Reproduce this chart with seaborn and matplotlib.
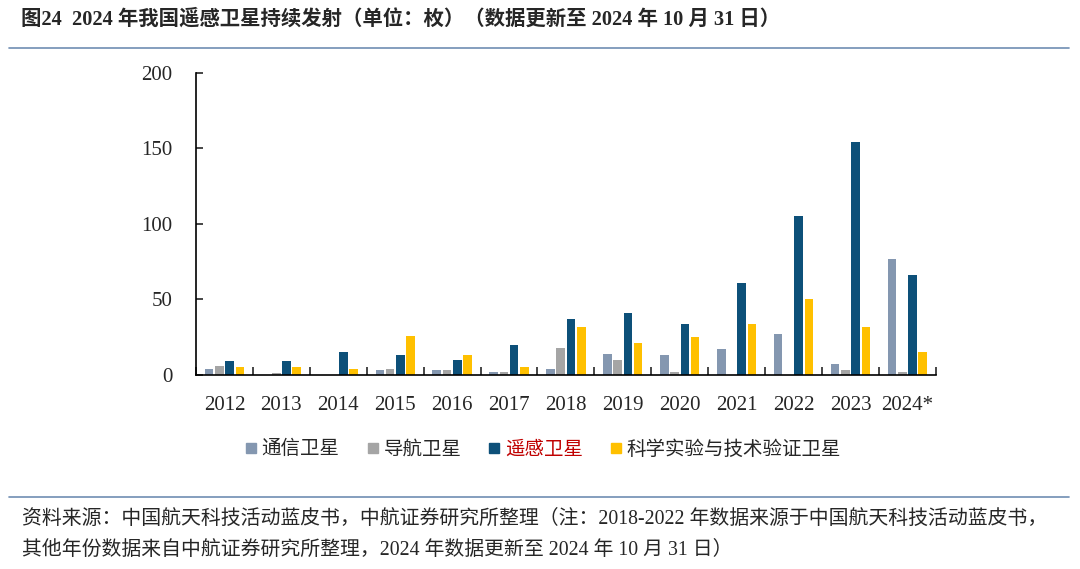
import numpy as np
import pandas as pd
import matplotlib
matplotlib.use("Agg")
import matplotlib.pyplot as plt
from matplotlib.lines import Line2D
import seaborn as sns

sns.set_style("white")
plt.rcParams["font.family"] = ["Liberation Serif", "Noto Sans CJK SC", "DejaVu Sans"]

# ================================
# DATA (单位：枚)
# ================================

years = ["2012", "2013", "2014", "2015", "2016", "2017", "2018",
         "2019", "2020", "2021", "2022", "2023", "2024*"]
series = ["通信卫星", "导航卫星", "遥感卫星", "科学实验与技术验证卫星"]

comm = [4, 0, 0, 3, 3, 2, 4, 14, 13, 17, 27, 7, 77]
nav = [6, 1, 0, 4, 3, 2, 18, 10, 2, 0, 0, 3, 2]
remote = [9, 9, 15, 13, 10, 20, 37, 41, 34, 61, 105, 154, 66]
science = [5, 5, 4, 26, 13, 5, 32, 21, 25, 34, 50, 32, 15]

colors = ["#8497b0", "#a5a5a5", "#0d5079", "#ffc000"]

df = pd.DataFrame({"year": years * 4,
                   "type": np.repeat(series, len(years)),
                   "count": comm + nav + remote + science})

# ================================
# PLOT
# ================================

fig = plt.figure(figsize=(10.8, 5.69), dpi=100)
ax = fig.add_axes([0.1815, 0.341, 0.685, 0.531])

sns.barplot(data=df, x="year", y="count", hue="type", hue_order=series,
            palette=colors, width=0.72, gap=0.16, saturation=1,
            linewidth=0, legend=False, ax=ax)

ax.set_xlim(-0.5, len(years) - 0.5)
ax.set_ylim(0, 200)
ax.set_yticks([0, 50, 100, 150, 200])
ax.set_xlabel("")
ax.set_ylabel("")

for s in ["top", "right"]:
    ax.spines[s].set_visible(False)
for s in ["left", "bottom"]:
    ax.spines[s].set_color("black")
    ax.spines[s].set_linewidth(1.2)

ax.tick_params(axis="y", direction="in", length=5, width=1.2,
               labelsize=15, pad=17, left=True)
ax.tick_params(axis="x", which="major", length=0, labelsize=15, pad=15)
ax.set_xticks(np.arange(len(years) + 1) - 0.5, minor=True)
ax.tick_params(axis="x", which="minor", direction="in", length=6,
               width=1.2, bottom=True)

# legend
handles = [Line2D([0], [0], marker="s", color="w", markerfacecolor=c,
                  markeredgecolor=c, markersize=6.5) for c in colors]
leg = fig.legend(handles, series, loc="center", ncol=4,
                 bbox_to_anchor=(0.503, 0.211), frameon=False,
                 handletextpad=0.25, columnspacing=1.4, handlelength=0.6,
                 prop={"family": ["Noto Sans CJK SC"], "size": 14})
for t in leg.get_texts():
    if t.get_text() == "遥感卫星":
        t.set_color("#c00000")

# title & separators
fig.text(0.019, 0.966, "图24  2024 年我国遥感卫星持续发射（单位：枚）（数据更新至 2024 年 10 月 31 日）",
         fontsize=14.7, fontweight="bold", va="center", ha="left",
         family=["Liberation Serif", "Noto Sans CJK SC"])
fig.add_artist(Line2D([0.008, 0.99], [0.915, 0.915], color="#6f8db3",
                      linewidth=1.2, transform=fig.transFigure))
fig.add_artist(Line2D([0.008, 0.99], [0.126, 0.126], color="#6f8db3",
                      linewidth=1.2, transform=fig.transFigure))

fig.text(0.02, 0.088,
         "资料来源：中国航天科技活动蓝皮书，中航证券研究所整理（注：2018-2022 年数据来源于中国航天科技活动蓝皮书，",
         fontsize=14.3, va="center", ha="left",
         family=["Liberation Serif", "Noto Sans CJK SC"])
fig.text(0.02, 0.032,
         "其他年份数据来自中航证券研究所整理，2024 年数据更新至 2024 年 10 月 31 日）",
         fontsize=14.3, va="center", ha="left",
         family=["Liberation Serif", "Noto Sans CJK SC"])

fig.savefig("out.png", dpi=100)
